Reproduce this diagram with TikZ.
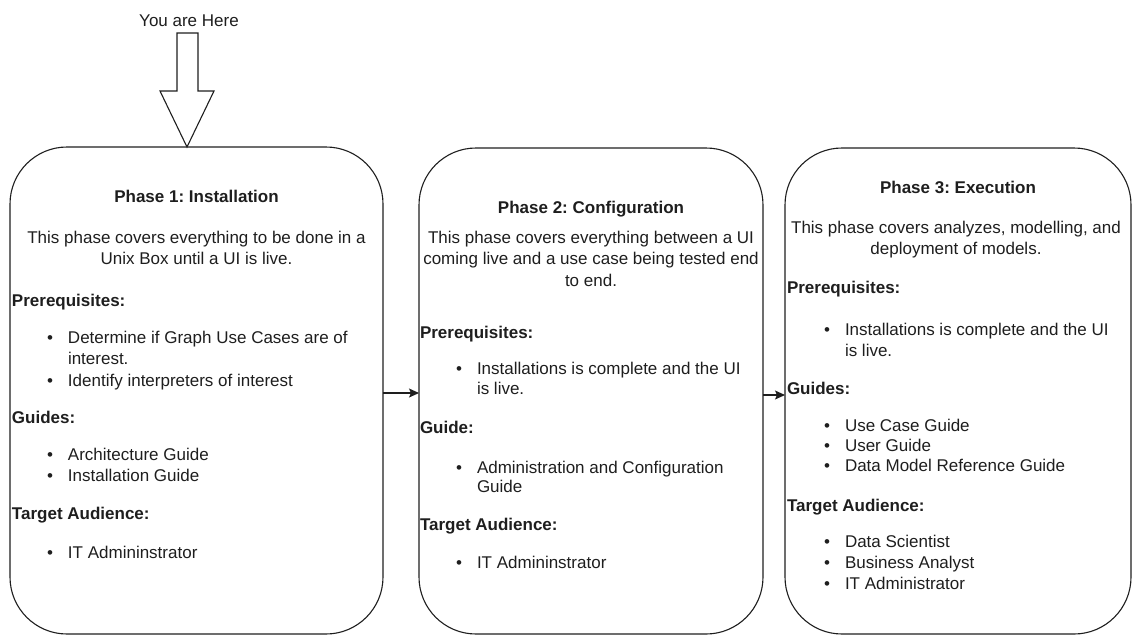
\documentclass[tikz,border=0pt]{standalone}
\usepackage{fontspec}
\setmainfont{Liberation Sans}
\usetikzlibrary{arrows.meta}
\definecolor{ink}{HTML}{1E1E1E}
\newcommand{\bul}{\llap{\textbullet\hspace{15pt}}}
\frenchspacing
\begin{document}
\begin{tikzpicture}[x=1pt,y=-1pt,
  every node/.style={inner sep=0pt, outer sep=0pt, text=ink, font=\fontsize{17}{21}\selectfont\frenchspacing},
  phasebox/.style={draw=ink, line width=1.1pt, rounded corners=57pt, anchor=north west},
  ptitle/.style={anchor=base, font=\fontsize{17}{21}\selectfont\bfseries\frenchspacing},
  pbody/.style={anchor=base},
  phead/.style={anchor=base west, font=\fontsize{17}{21}\selectfont\bfseries\frenchspacing},
  pitem/.style={anchor=base west},
  conn/.style={draw=ink, line width=1.1pt, -{Stealth[length=10pt,width=9pt,inset=2pt]}},
  bigarrow/.style={draw=ink, line width=1.1pt, fill=white, line join=miter}
]
\useasboundingbox (0,0) rectangle (1134,635);

% boxes
\node[phasebox, minimum width=373pt, minimum height=487pt] (p1) at (10,147) {};
\node[phasebox, minimum width=344pt, minimum height=486pt] (p2) at (419,148) {};
\node[phasebox, minimum width=346pt, minimum height=486pt] (p3) at (785,148) {};

% you are here
\node[pbody] (here) at (189,26) {You are Here};
\coordinate (tip) at (187,147);
\draw[bigarrow] (tip) -- ++(-27,-56) -- ++(17,0) -- ++(0,-58) -- ++(21,0) -- ++(0,58) -- ++(16,0) -- cycle;

% connectors
\draw[conn] ([yshift=-2.5pt]p1.east) -- ([yshift=-2.5pt]p1.east -| p2.west);
\draw[conn] ([yshift=-4pt]p2.east) -- ([yshift=-4pt]p2.east -| p3.west);

% phase 1
\node[ptitle] (t1) at (196.5,202) {Phase 1: Installation};
\node[pbody] (d1a) at (196.5,243) {This phase covers everything to be done in a};
\node[pbody] (d1b) at (196.5,264) {Unix Box until a UI is live.};
\node[phead] (h1a) at (12,306) {Prerequisites:};
\node[pitem] (i1a) at (68,343) {\bul Determine if Graph Use Cases are of};
\node[pitem] (i1b) at (68,364) {interest.};
\node[pitem] (i1c) at (68,386) {\bul Identify interpreters of interest};
\node[phead] (h1b) at (12,423) {Guides:};
\node[pitem] (i1d) at (68,460) {\bul Architecture Guide};
\node[pitem] (i1e) at (68,481) {\bul Installation Guide};
\node[phead] (h1c) at (12,519) {Target Audience:};
\node[pitem] (i1f) at (68,558) {\bul IT Admininstrator};

% phase 2
\node[ptitle] (t2) at (591,213) {Phase 2: Configuration};
\node[pbody] (d2a) at (591,243) {This phase covers everything between a UI};
\node[pbody] (d2b) at (591,264) {coming live and a use case being tested end};
\node[pbody] (d2c) at (591,286) {to end.};
\node[phead] (h2a) at (420,338) {Prerequisites:};
\node[pitem] (i2a) at (477,374) {\bul Installations is complete and the UI};
\node[pitem] (i2b) at (477,394) {is live.};
\node[phead] (h2b) at (420,433) {Guide:};
\node[pitem] (i2c) at (477,473) {\bul Administration and Configuration};
\node[pitem] (i2d) at (477,492) {Guide};
\node[phead] (h2c) at (420,530) {Target Audience:};
\node[pitem] (i2e) at (477,568) {\bul IT Admininstrator};

% phase 3
\node[ptitle] (t3) at (958,193) {Phase 3: Execution};
\node[pbody] (d3a) at (956,233) {This phase covers analyzes, modelling, and};
\node[pbody] (d3b) at (956,254) {deployment of models.};
\node[phead] (h3a) at (787,293) {Prerequisites:};
\node[pitem] (i3a) at (845,335) {\bul Installations is complete and the UI};
\node[pitem] (i3b) at (845,356) {is live.};
\node[phead] (h3b) at (787,394) {Guides:};
\node[pitem] (i3c) at (845,431) {\bul Use Case Guide};
\node[pitem] (i3d) at (845,451) {\bul User Guide};
\node[pitem] (i3e) at (845,471) {\bul Data Model Reference Guide};
\node[phead] (h3c) at (787,511) {Target Audience:};
\node[pitem] (i3f) at (845,547) {\bul Data Scientist};
\node[pitem] (i3g) at (845,568) {\bul Business Analyst};
\node[pitem] (i3h) at (845,589) {\bul IT Administrator};
\end{tikzpicture}
\end{document}
